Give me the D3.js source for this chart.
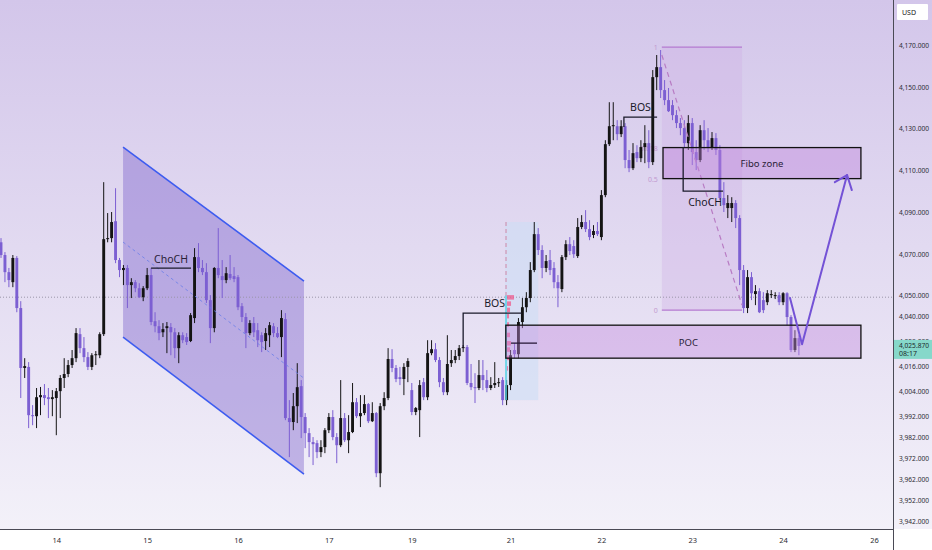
<!DOCTYPE html>
<html><head><meta charset="utf-8">
<script src="https://cdn.jsdelivr.net/npm/d3@7/dist/d3.min.js"></script>
<style>body{margin:0;background:#fff;overflow:hidden}svg{display:block}</style>
</head><body>
<svg id="c" width="932" height="550"></svg>
<script>
// ---------- DATA ----------
const dayLabels = ["14","15","16","17","19","21","22","23","24","26"];
const dayIndex  = [14, 37, 60, 83, 104, 129, 152, 175, 198, 221];
const priceTicks = [4170,4150,4130,4110,4090,4070,4050,4040,4028,4016,4004,3992,3982,3972,3962,3952,3942];
const lastPrice = 4025.87;
const countdown = "08:17";
const currency = "USD";
// hourly candles: [open, high, low, close]
const candles = [
[4075.5,4077.5,4068.0,4069.4],[4069.4,4070.8,4056.4,4061.2],[4061.2,4063.2,4054.0,4057.4],[4056.4,4069.4,4054.0,4068.0],
[4068.0,4068.9,4042.0,4044.0],[4044.0,4047.3,4000.9,4015.3],[4015.3,4020.0,4010.5,4016.2],[4015.8,4018.1,3986.5,3992.7],
[3992.7,3997.5,3987.9,3992.2],[3992.2,4005.7,3986.5,4001.3],[4001.3,4006.2,3992.7,4002.3],[4002.3,4007.6,3997.5,4000.9],
[4001.3,4005.7,3991.3,4000.4],[4000.4,4004.7,3992.2,4001.3],[4000.9,4005.7,3983.1,4004.2],[4004.2,4011.9,3991.3,4010.5],
[4010.5,4020.0,4005.7,4012.4],[4012.4,4019.1,4010.9,4016.7],[4016.7,4023.9,4015.3,4020.0],[4020.0,4034.4,4018.1,4032.0],
[4031.5,4034.4,4022.4,4024.8],[4024.8,4030.1,4018.1,4020.5],[4020.5,4022.9,4014.3,4015.8],[4015.8,4022.4,4014.3,4021.4],
[4021.4,4023.4,4016.7,4021.9],[4021.4,4032.4,4020.0,4031.5],[4031.5,4104.3,4030.6,4077.0],[4077.0,4089.5,4075.5,4077.5],
[4077.5,4090.0,4075.5,4085.2],[4085.6,4101.4,4065.5,4067.0],[4067.0,4068.0,4058.8,4062.2],[4062.2,4064.6,4055.0,4063.2],
[4063.2,4064.6,4044.0,4055.0],[4055.0,4058.3,4048.8,4056.4],[4056.4,4057.4,4051.6,4053.5],[4053.5,4055.9,4048.8,4049.2],
[4049.2,4054.5,4047.3,4053.5],[4053.5,4063.2,4052.6,4059.8],[4059.8,4063.2,4035.8,4037.3],[4037.7,4042.0,4032.4,4035.3],
[4035.3,4038.2,4028.6,4032.0],[4032.4,4036.8,4030.1,4033.9],[4034.4,4037.3,4022.4,4035.3],[4034.9,4036.8,4021.4,4032.4],
[4032.4,4034.4,4020.0,4024.8],[4024.8,4032.4,4017.6,4031.0],[4031.0,4032.4,4027.2,4028.6],[4030.1,4032.0,4026.3,4027.7],
[4028.2,4041.6,4027.7,4040.6],[4039.2,4072.7,4036.8,4068.4],[4068.4,4075.1,4061.2,4063.2],[4063.2,4067.0,4059.8,4061.2],
[4061.2,4065.5,4046.4,4047.8],[4047.8,4050.2,4027.2,4034.4],[4034.4,4063.6,4032.4,4063.2],[4063.2,4082.3,4058.3,4059.8],
[4059.3,4067.0,4048.8,4057.4],[4057.4,4063.6,4055.9,4060.7],[4060.3,4069.4,4057.4,4058.3],[4059.3,4063.6,4056.4,4057.9],
[4058.8,4059.8,4043.0,4044.4],[4044.9,4046.4,4037.3,4039.7],[4039.7,4041.6,4024.8,4032.0],[4032.0,4038.2,4031.0,4036.8],
[4036.8,4039.7,4030.1,4032.4],[4033.4,4036.8,4025.3,4028.6],[4031.0,4032.4,4022.9,4027.7],[4028.2,4034.4,4023.9,4032.0],
[4031.0,4037.3,4025.3,4035.8],[4035.3,4036.8,4030.1,4032.0],[4032.0,4034.9,4029.6,4030.1],[4030.1,4043.0,4020.5,4039.2],
[4038.7,4041.6,3990.3,3991.3],[3991.3,3999.9,3972.6,3989.4],[3989.4,4003.3,3985.5,3997.0],[3997.0,4017.6,3988.9,4006.1],
[4006.6,4009.5,3981.7,3991.8],[3991.8,3993.7,3976.9,3984.1],[3984.1,3986.5,3972.6,3979.8],[3979.8,3982.2,3968.8,3978.8],
[3979.3,3980.7,3972.1,3975.0],[3975.0,3980.7,3972.6,3977.4],[3977.4,3986.5,3974.5,3985.5],[3985.5,3993.7,3984.1,3991.8],
[3991.8,3995.1,3980.7,3982.2],[3982.2,3984.1,3969.7,3978.3],[3978.3,4009.5,3977.4,3991.3],[3991.3,3993.7,3979.8,3980.7],
[3980.7,3992.7,3974.5,3984.6],[3984.6,4008.1,3984.1,3998.9],[3998.9,4000.9,3991.3,3992.2],[3992.2,4002.3,3987.0,3993.7],
[3993.7,4002.3,3992.7,3998.0],[3998.0,3998.5,3988.9,3989.8],[3989.8,3998.9,3989.4,3993.7],[3993.7,3994.2,3963.0,3964.9],
[3964.9,3998.5,3958.2,3997.0],[3997.0,4003.7,3995.1,4000.9],[4000.9,4024.8,3999.9,4019.6],[4019.6,4024.3,4013.3,4015.3],
[4015.3,4016.7,4008.5,4010.0],[4010.9,4015.8,4007.1,4010.0],[4010.0,4017.6,4002.3,4015.8],[4015.8,4020.0,4008.5,4018.6],
[4004.7,4008.1,3992.7,3994.2],[3994.2,3996.6,3992.7,3996.1],[3995.1,4009.5,3982.2,4007.1],[4008.5,4010.5,3999.9,4001.3],
[4001.3,4028.6,3999.9,4022.4],[4022.4,4028.6,4021.4,4024.3],[4024.3,4027.2,4018.1,4019.1],[4019.1,4020.5,4006.1,4008.5],
[4008.5,4010.5,4002.3,4003.7],[4003.7,4031.0,4002.3,4017.2],[4017.6,4023.9,4015.8,4019.1],[4019.1,4023.9,4017.6,4021.0],
[4021.0,4026.3,4019.1,4024.8],[4024.8,4026.3,4022.9,4025.3],[4025.3,4026.3,4007.1,4008.1],[4008.1,4017.2,4004.7,4006.1],
[4006.1,4012.8,3998.5,4005.7],[4005.7,4019.1,4004.7,4011.9],[4011.9,4019.1,4004.7,4009.5],[4009.5,4014.3,4003.7,4005.7],
[4005.7,4010.9,4004.7,4007.1],[4007.1,4018.1,4005.7,4008.1],[4008.1,4010.5,4006.2,4008.5],[4009.5,4010.9,3997.5,3999.9],
[3999.9,4009.5,3997.5,4007.1],[4007.1,4023.9,4004.7,4021.4],[4023.9,4027.2,4020.0,4021.9],[4021.9,4039.2,4020.0,4037.3],
[4037.3,4048.8,4034.4,4044.4],[4044.4,4051.6,4042.0,4048.8],[4048.8,4066.0,4046.8,4062.2],[4062.2,4085.2,4061.2,4079.4],
[4079.4,4082.3,4069.4,4071.8],[4071.8,4074.1,4058.3,4063.2],[4063.2,4069.4,4061.2,4066.5],[4067.0,4071.8,4059.8,4062.2],
[4063.2,4066.0,4053.5,4056.4],[4056.4,4059.8,4044.4,4053.5],[4053.1,4069.4,4051.6,4068.4],[4068.4,4076.5,4067.0,4074.6],
[4074.6,4078.0,4069.4,4071.3],[4073.7,4076.5,4068.0,4069.8],[4068.9,4087.1,4068.0,4082.8],[4082.8,4088.5,4081.8,4085.2],
[4085.2,4090.9,4080.4,4081.8],[4081.8,4086.1,4076.5,4078.0],[4079.0,4083.7,4077.5,4080.9],[4080.9,4085.2,4078.5,4079.4],
[4078.0,4100.5,4076.5,4098.1],[4098.1,4124.4,4097.1,4122.5],[4122.5,4142.6,4121.6,4131.1],[4131.1,4142.6,4124.4,4131.6],
[4131.1,4134.0,4124.4,4127.3],[4127.3,4134.0,4125.9,4131.1],[4131.1,4132.6,4111.0,4114.9],[4114.9,4119.7,4109.1,4111.0],
[4111.0,4123.0,4110.1,4118.2],[4118.7,4122.0,4113.9,4115.8],[4115.8,4124.4,4113.9,4121.1],[4121.1,4131.6,4113.4,4123.0],
[4123.0,4129.2,4111.0,4113.9],[4113.9,4158.0,4112.5,4154.6],[4154.6,4165.2,4148.4,4159.4],[4159.4,4167.6,4144.6,4148.4],
[4148.4,4153.2,4141.2,4143.6],[4143.6,4149.4,4137.9,4138.3],[4141.2,4143.6,4134.0,4136.4],[4136.4,4138.8,4130.2,4132.6],
[4132.6,4135.0,4126.8,4130.2],[4130.2,4134.0,4120.6,4123.0],[4123.0,4136.4,4119.7,4132.6],[4132.6,4135.0,4112.5,4118.7],
[4118.7,4124.4,4110.1,4114.9],[4114.9,4131.6,4113.9,4129.2],[4129.2,4134.0,4119.7,4124.4],[4124.4,4130.2,4118.7,4121.1],
[4121.1,4128.3,4119.7,4125.4],[4125.4,4127.8,4117.3,4119.7],[4119.7,4122.0,4095.7,4096.7],[4096.7,4104.3,4090.0,4093.3],
[4091.9,4098.1,4087.1,4094.3],[4091.9,4097.1,4085.2,4094.3],[4094.3,4095.7,4082.3,4087.1],[4087.1,4088.5,4055.0,4062.2],
[4062.2,4064.6,4041.6,4044.0],[4044.0,4062.2,4041.6,4058.8],[4058.8,4061.2,4047.8,4051.1],[4050.7,4055.0,4045.4,4052.1],
[4052.1,4053.5,4041.6,4042.0],[4047.8,4051.6,4041.6,4043.0],[4046.8,4052.6,4045.4,4051.1],[4050.2,4052.6,4048.8,4050.7],
[4049.7,4051.6,4048.3,4050.2],[4050.2,4051.6,4045.4,4046.8],[4046.8,4051.6,4045.4,4051.1],[4051.1,4051.6,4035.8,4039.7],
[4039.7,4040.6,4022.9,4023.9],[4023.9,4033.4,4022.9,4029.6],[4029.6,4031.0,4021.4,4025.87]
];
// drawings, in (bar index, price)
const channel = {i0:30.9, i1:76.7, top:[4121.1,4056.9], bot:[4030.1,3964.5], mid:[4075.6,4010.4]};
const choch1 = {i0:38, i1:48.1, p:4063.1, label:"ChoCH"};
const bos1 = {i0:117, i1:131.9, pLow:4025.3, p:4041.6, label:"BOS"};
const volBox = {i0:127.6, i1:136, p0:4085.2, p1:3999.9};
const profile = [[4049,7],[4046,4],[4043,3],[4040,2],[4036,2],[4031,3],[4027,4],[4024,3],[4020,2],[4015,1]];
const poc = {i0:127.8, i1:217.7, p0:4035.8, p1:4020.0, lineI:[129.1,135.7], lineP:4027.2, label:"POC"};
const fib = {i0:167.3, i1:187.6, p1:4169.0, p0:4043.0, levels:[1,0.618,0.5,0]};
const fiboZone = {i0:167.6, i1:217.7, label:"Fibo zone"};
const bos2 = {i0:157.7, i1:166.1, p:4135.5, pLow:4130.7, label:"BOS"};
const choch2 = {i0:172.7, i1:182.8, pTop:4121.1, p:4100.0, label:"ChoCH"};
const projection = [[199.7,4049.2],[202.8,4026.7],[214.2,4107.7]];
const arrowWings = [[211.1,4104.3],[215.4,4100.5]];
const refLine = 4049.2;

// ---------- SCALES ----------
const plotR = 893, plotB = 529;
const x = d3.scaleLinear().domain([0,226]).range([1, 1+3.95*226]);
const y = d3.scaleLinear().domain([3942,4170]).range([521,45]);
const fibP = l => fib.p0 + (fib.p1-fib.p0)*l;
const FONT = "Noto Sans, sans-serif";

const svg = d3.select("#c");
const defs = svg.append("defs");
const g = defs.append("linearGradient").attr("id","bg").attr("x1",0).attr("y1",0).attr("x2",0).attr("y2",1);
g.append("stop").attr("offset","0%").attr("stop-color","#d3c6ea");
g.append("stop").attr("offset","100%").attr("stop-color","#f3f1f9");
defs.append("clipPath").attr("id","plot").append("rect").attr("width",plotR).attr("height",plotB);

svg.append("rect").attr("width",932).attr("height",550).attr("fill","#ffffff");
svg.append("rect").attr("width",932).attr("height",plotB).attr("fill","url(#bg)");

const P = svg.append("g").attr("clip-path","url(#plot)");

// channel fill
const chPts = [[channel.i0,channel.top[0]],[channel.i1,channel.top[1]],[channel.i1,channel.bot[1]],[channel.i0,channel.bot[0]]];
P.append("path").attr("d","M"+chPts.map(p=>[x(p[0]),y(p[1])].join(",")).join("L")+"Z")
 .attr("fill","rgba(112,84,200,0.38)");

// fib box fill
P.append("rect").attr("x",x(fib.i0)).attr("y",y(fib.p1)).attr("width",x(fib.i1)-x(fib.i0)).attr("height",y(fib.p0)-y(fib.p1))
 .attr("fill","rgba(205,175,230,0.35)");
// volume profile box
P.append("rect").attr("x",x(volBox.i0)).attr("y",y(volBox.p0)).attr("width",x(volBox.i1)-x(volBox.i0)).attr("height",y(volBox.p1)-y(volBox.p0))
 .attr("fill","rgba(205,222,245,0.6)");

// ref dotted line
P.append("line").attr("x1",0).attr("x2",plotR).attr("y1",y(refLine)).attr("y2",y(refLine))
 .attr("stroke","#9a96a8").attr("stroke-width",1).attr("stroke-dasharray","1,2");

// fib labels
P.selectAll("text.fl").data(fib.levels).enter().append("text")
 .attr("x",x(fib.i0)-4).attr("y",d=>y(fibP(d))+3).attr("text-anchor","end")
 .attr("font-family",FONT).attr("font-size",7).attr("fill","#c29ad0").text(d=>d);

// candles
const up="#141414", dn="#7c5fd2";
const cg = P.append("g");
candles.forEach((d,i)=>{
  const [o,h,l,c]=d; const col = c>=o?up:dn;
  cg.append("line").attr("x1",x(i)).attr("x2",x(i)).attr("y1",y(h)).attr("y2",y(l)).attr("stroke",col).attr("stroke-width",1);
  const yt=y(Math.max(o,c)), yb=y(Math.min(o,c));
  cg.append("rect").attr("x",x(i)-1.45).attr("width",2.9).attr("y",yt).attr("height",Math.max(1,yb-yt)).attr("fill",col);
});

// channel lines
P.append("line").attr("x1",x(channel.i0)).attr("y1",y(channel.top[0])).attr("x2",x(channel.i1)).attr("y2",y(channel.top[1]))
 .attr("stroke","#3d5cf0").attr("stroke-width",1.6);
P.append("line").attr("x1",x(channel.i0)).attr("y1",y(channel.bot[0])).attr("x2",x(channel.i1)).attr("y2",y(channel.bot[1]))
 .attr("stroke","#3d5cf0").attr("stroke-width",1.6);
P.append("line").attr("x1",x(channel.i0)).attr("y1",y(channel.mid[0])).attr("x2",x(channel.i1)).attr("y2",y(channel.mid[1]))
 .attr("stroke","#6a7ee8").attr("stroke-width",0.8).attr("stroke-dasharray","3,3");

// ChoCH 1
P.append("line").attr("x1",x(choch1.i0)).attr("x2",x(choch1.i1)).attr("y1",y(choch1.p)).attr("y2",y(choch1.p)).attr("stroke","#1a1a2a").attr("stroke-width",1.3);
P.append("text").attr("x",(x(choch1.i0)+x(choch1.i1))/2).attr("y",y(choch1.p)-5).attr("text-anchor","middle")
 .attr("font-family",FONT).attr("font-size",10.5).attr("fill","#2a2238").text(choch1.label);

// volume profile marks
const vx = x(volBox.i0)+1;
P.append("line").attr("x1",vx).attr("x2",vx).attr("y1",y(volBox.p0)).attr("y2",y(4049)).attr("stroke","#d29ab8").attr("stroke-width",1.3).attr("stroke-dasharray","4,3");
P.append("line").attr("x1",vx).attr("x2",vx).attr("y1",y(4050)).attr("y2",y(volBox.p1)).attr("stroke","#56d2e4").attr("stroke-width",1.5);
P.selectAll("rect.vp").data(profile).enter().append("rect").attr("x",vx+1).attr("y",d=>y(d[0])-2.5).attr("height",4.5)
 .attr("width",d=>d[1]).attr("fill","rgba(238,90,140,0.75)");

// BOS 1
P.append("path").attr("d",`M${x(bos1.i0)},${y(bos1.pLow)}L${x(bos1.i0)},${y(bos1.p)}L${x(bos1.i1)},${y(bos1.p)}`)
 .attr("fill","none").attr("stroke","#1a1a2a").attr("stroke-width",1.3);
P.append("text").attr("x",(x(bos1.i0)+x(bos1.i1))/2+2).attr("y",y(bos1.p)-6).attr("text-anchor","middle")
 .attr("font-family",FONT).attr("font-size",10.5).attr("fill","#1a1a2a").text(bos1.label);

// POC zone
P.append("rect").attr("x",x(poc.i0)).attr("y",y(poc.p0)).attr("width",x(poc.i1)-x(poc.i0)).attr("height",y(poc.p1)-y(poc.p0))
 .attr("fill","rgba(196,140,222,0.42)").attr("stroke","#111").attr("stroke-width",1.3);
P.append("line").attr("x1",x(poc.lineI[0])).attr("x2",x(poc.lineI[1])).attr("y1",y(poc.lineP)).attr("y2",y(poc.lineP)).attr("stroke","#2a1a3a").attr("stroke-width",1.3);
P.append("text").attr("x",(x(poc.i0)+x(poc.i1))/2+5).attr("y",(y(poc.p0)+y(poc.p1))/2+4).attr("text-anchor","middle")
 .attr("font-family",FONT).attr("font-size",9.5).attr("fill","#2a2238").text(poc.label);

// fib lines + diagonal
[1,0].forEach(l=>P.append("line").attr("x1",x(fib.i0)).attr("x2",x(fib.i1)).attr("y1",y(fibP(l))).attr("y2",y(fibP(l))).attr("stroke","#b57ad0").attr("stroke-width",1.2));
P.append("line").attr("x1",x(fib.i0)).attr("y1",y(4165.2)).attr("x2",x(fib.i1)).attr("y2",y(4045.4))
 .attr("stroke","#b87cc4").attr("stroke-width",1.2).attr("stroke-dasharray","5,4");

// Fibo zone
const fz0=fibP(0.618), fz1=fibP(0.5);
P.append("rect").attr("x",x(fiboZone.i0)).attr("y",y(fz0)).attr("width",x(fiboZone.i1)-x(fiboZone.i0)).attr("height",y(fz1)-y(fz0))
 .attr("fill","rgba(190,130,220,0.42)").attr("stroke","#111").attr("stroke-width",1.3);
P.append("text").attr("x",(x(fiboZone.i0)+x(fiboZone.i1))/2).attr("y",(y(fz0)+y(fz1))/2+4).attr("text-anchor","middle")
 .attr("font-family",FONT).attr("font-size",9.5).attr("fill","#2a2238").text(fiboZone.label);

// BOS 2
P.append("path").attr("d",`M${x(bos2.i0)},${y(bos2.pLow)}L${x(bos2.i0)},${y(bos2.p)}L${x(bos2.i1)},${y(bos2.p)}`)
 .attr("fill","none").attr("stroke","#1a1a2a").attr("stroke-width",1.3);
P.append("text").attr("x",(x(bos2.i0)+x(bos2.i1))/2).attr("y",y(bos2.p)-6).attr("text-anchor","middle")
 .attr("font-family",FONT).attr("font-size",10.5).attr("fill","#1a1a2a").text(bos2.label);

// ChoCH 2
P.append("path").attr("d",`M${x(choch2.i0)},${y(choch2.pTop)}L${x(choch2.i0)},${y(choch2.p)}L${x(choch2.i1)},${y(choch2.p)}`)
 .attr("fill","none").attr("stroke","#1a1a2a").attr("stroke-width",1.3);
P.append("text").attr("x",(x(choch2.i0)+x(choch2.i1))/2+2).attr("y",y(choch2.p)+15).attr("text-anchor","middle")
 .attr("font-family",FONT).attr("font-size",10.5).attr("fill","#1a1a2a").text(choch2.label);

// projection arrow
const line = d3.line().x(d=>x(d[0])).y(d=>y(d[1]));
P.append("path").attr("d",line(projection)).attr("fill","none").attr("stroke","#7452d6").attr("stroke-width",2).attr("stroke-linejoin","round");
const tip = projection[2];
arrowWings.forEach(w=>P.append("line").attr("x1",x(tip[0])).attr("y1",y(tip[1])).attr("x2",x(w[0])).attr("y2",y(w[1]))
 .attr("stroke","#7452d6").attr("stroke-width",2).attr("stroke-linecap","round"));

// ---------- AXES ----------
svg.append("line").attr("x1",plotR+0.5).attr("x2",plotR+0.5).attr("y1",0).attr("y2",550).attr("stroke","#4a4a55").attr("stroke-width",1);
svg.append("line").attr("x1",0).attr("x2",plotR).attr("y1",plotB+0.5).attr("y2",plotB+0.5).attr("stroke","#4a4a55").attr("stroke-width",1);

const fmt = d3.format(",.3f");
const ya = svg.append("g").attr("transform",`translate(${plotR},0)`)
  .call(d3.axisRight(y).tickValues(priceTicks).tickFormat(fmt).tickSize(0).tickPadding(6));
ya.select(".domain").remove();
ya.selectAll("text").attr("font-family",FONT).attr("font-size",7).attr("fill","#2c2c34")
  .attr("textLength",30).attr("lengthAdjust","spacingAndGlyphs");

const xa = svg.append("g").attr("transform",`translate(0,${plotB})`)
  .call(d3.axisBottom(x).tickValues(dayIndex).tickFormat((d,i)=>dayLabels[i]).tickSize(0).tickPadding(9));
xa.select(".domain").remove();
xa.selectAll("text").attr("font-family",FONT).attr("font-size",7.5).attr("fill","#2c2c34");

// USD box
svg.append("rect").attr("x",plotR+4).attr("y",4).attr("width",31).attr("height",16).attr("fill","#ffffff").attr("rx",1);
svg.append("text").attr("x",plotR+9).attr("y",15).attr("font-family",FONT).attr("font-size",7).attr("fill","#222").text(currency);

// last price label
const ly = y(lastPrice);
svg.append("rect").attr("x",plotR+1).attr("y",ly-6).attr("width",39).attr("height",19).attr("fill","#86d8ca");
svg.append("text").attr("x",plotR+6).attr("y",ly+2.5).attr("font-family",FONT).attr("font-size",7).attr("fill","#1c2a2a")
  .attr("textLength",30).attr("lengthAdjust","spacingAndGlyphs").text(fmt(lastPrice));
svg.append("text").attr("x",plotR+6).attr("y",ly+10.5).attr("font-family",FONT).attr("font-size",7).attr("fill","#1c2a2a").text(countdown);
</script>
</body></html>
